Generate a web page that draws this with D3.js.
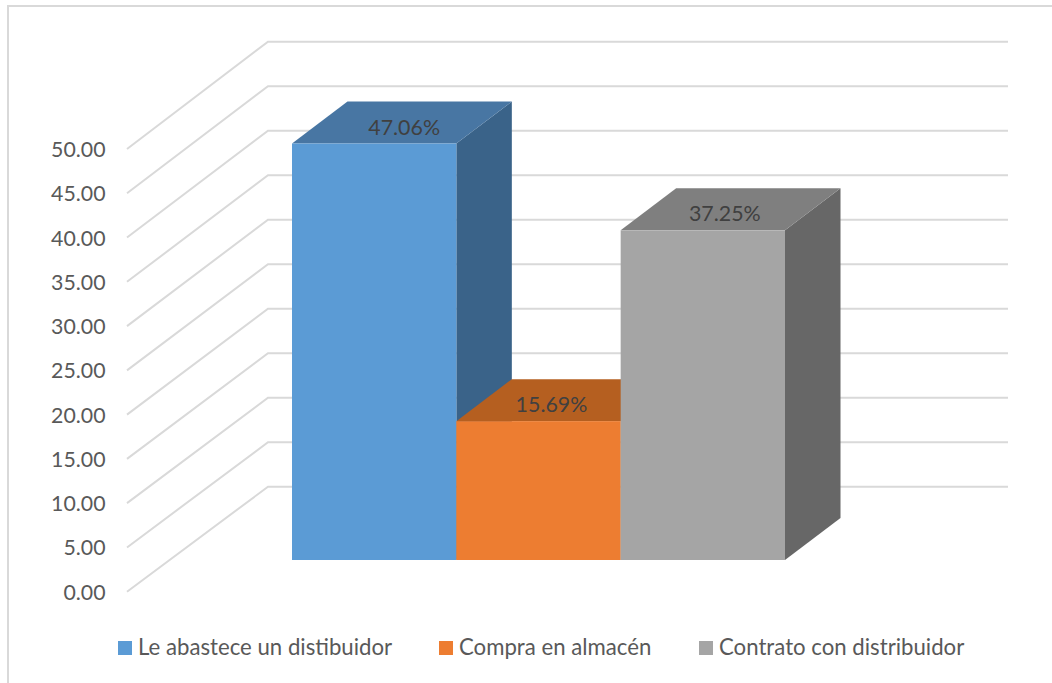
<!DOCTYPE html>
<html><head><meta charset="utf-8">
<script src="https://cdn.jsdelivr.net/npm/d3@7/dist/d3.min.js"></script>
<style>html,body{margin:0;padding:0;background:#fff}svg{display:block}text{font-family:Lato,"Open Sans",sans-serif;}</style>
</head><body><svg id="c" width="1052" height="683"></svg>
<script>
const categories = ["Le abastece un distibuidor","Compra en almacén","Contrato con distribuidor"];
const values = [47.06,15.69,37.25];
const valueLabels = ["47.06%","15.69%","37.25%"];
const yTicks = [0,5,10,15,20,25,30,35,40,45,50];
const frontColors = ["#5b9bd5","#ed7d31","#a5a5a5"];
const topColors = ["#4876a3","#b55f20","#7f7f7f"];
const sideColors = ["#3a6389","#b55f20","#676767"];
const legendX = [118,439,699];
const labelDx = [30,13,22];

const svg = d3.select("#c");
svg.append("path").attr("d","M8,683V6H1052").attr("fill","none").attr("stroke","#d9d9d9").attr("stroke-width",2);

const yFront = d3.scaleLinear().domain([0,50]).range([591.7,149]);
const yBack = d3.scaleLinear().domain([0,50]).range([486.7,41.7]);
const wallL=268, wallR=1008, tickL=127;
const g = svg.append("g");
g.selectAll("path.grid").data(yTicks).join("path").attr("class","grid")
 .attr("d",d=>`M${tickL},${yFront(d)}L${wallL},${yBack(d)}H${wallR}`)
 .attr("fill","none").attr("stroke","#d9d9d9").attr("stroke-width",2);

g.selectAll("text.tick").data(yTicks).join("text").attr("class","tick")
 .attr("x",105.5).attr("y",d=>yFront(d)+8).attr("text-anchor","end")
 .attr("font-size",21.3).attr("fill","#595959").text(d=>d3.format(".2f")(d));

const x = d3.scaleBand().domain(categories).range([292,785]);
const base = 560, dx=55.5, dy=42;
const h = d3.scaleLinear().domain([0,50]).range([0,442.5]);
const bars = g.selectAll("g.bar").data(categories).join("g").attr("class","bar");
bars.append("path").attr("fill",(d,i)=>sideColors[i]).attr("d",(d,i)=>{const r=x(d)+x.bandwidth(),t=base-h(values[i]);
 return `M${r},${base}L${r+dx},${base-dy}V${t-dy}L${r},${t}Z`;});
bars.append("path").attr("fill",(d,i)=>topColors[i]).attr("d",(d,i)=>{const l=x(d),r=l+x.bandwidth(),t=base-h(values[i]);
 return `M${l},${t}L${l+dx},${t-dy}H${r+dx}L${r},${t}Z`;});
bars.append("rect").attr("fill",(d,i)=>frontColors[i]).attr("x",d=>x(d)).attr("width",x.bandwidth())
 .attr("y",(d,i)=>base-h(values[i])).attr("height",(d,i)=>h(values[i]));
bars.append("text").attr("text-anchor","middle").attr("font-size",21.4).attr("fill","#404040")
 .attr("x",(d,i)=>x(d)+x.bandwidth()/2+labelDx[i]).attr("y",(d,i)=>base-h(values[i])-9).text((d,i)=>valueLabels[i]);

const lg = svg.selectAll("g.leg").data(categories).join("g").attr("class","leg");
lg.append("rect").attr("x",(d,i)=>legendX[i]).attr("y",641).attr("width",14).attr("height",14).attr("fill",(d,i)=>frontColors[i]);
lg.append("text").attr("x",(d,i)=>legendX[i]+20).attr("y",655).attr("font-size",22.2).attr("fill","#595959").text(d=>d);
</script></body></html>
